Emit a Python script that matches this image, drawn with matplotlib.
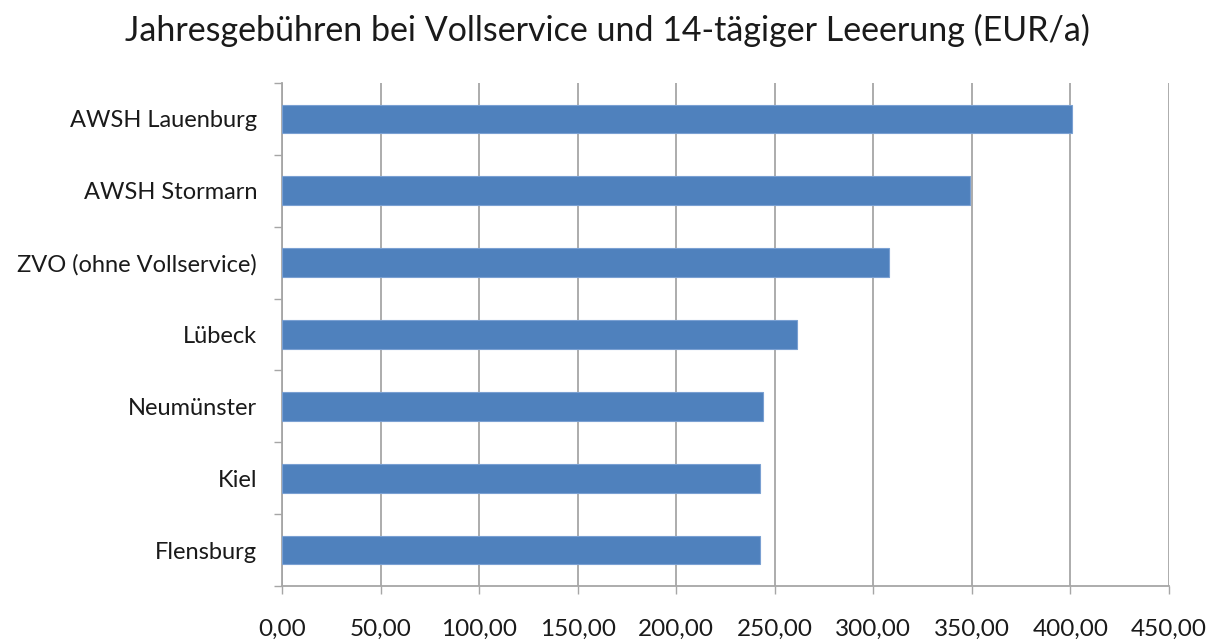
import numpy as np
import matplotlib.pyplot as plt
from matplotlib.ticker import FixedLocator

# ── data ──────────────────────────────────────────────────────────────
categories = ["Flensburg", "Kiel", "Neumünster", "Lübeck",
              "ZVO (ohne Vollservice)", "AWSH Stormarn", "AWSH Lauenburg"]
fees = [242.7, 242.7, 243.9, 261.4, 308.0, 349.1, 401.0]
x_ticks = [0, 50, 100, 150, 200, 250, 300, 350, 400, 450]
x_labels = ["0,00", "50,00", "100,00", "150,00", "200,00",
            "250,00", "300,00", "350,00", "400,00", "450,00"]

TITLE = "Jahresgebühren bei Vollservice und 14-tägiger Leeerung (EUR/a)"

BAR   = "#4F81BD"
EDGE  = "#7AA0D2"
GRID  = "#A6A6A6"
TEXT  = "#1A1A1A"

plt.rcParams["font.family"] = ["Lato", "DejaVu Sans"]

fig = plt.figure(figsize=(12.18, 6.41), dpi=100)
ax = fig.add_axes([282 / 1218, 1 - 586 / 641, (1169 - 282) / 1218, (586 - 83) / 641])

y = np.arange(len(categories))
ax.barh(y, fees, height=0.4, color=BAR, edgecolor=EDGE, linewidth=0.8, zorder=3)

ax.set_xlim(0, 450)
ax.set_ylim(-0.5, len(categories) - 0.5)

ax.set_xticks(x_ticks)
ax.set_xticklabels(x_labels, fontsize=17.5, color=TEXT)
ax.set_yticks(y)
ax.set_yticklabels(categories, fontsize=17, color=TEXT)

# category separators as minor ticks on the y axis
ax.yaxis.set_minor_locator(FixedLocator(np.arange(-0.5, len(categories), 1.0)))
ax.tick_params(axis="y", which="major", length=0, pad=18)
ax.tick_params(axis="y", which="minor", length=6, width=1.0, color=GRID, direction="out")
ax.tick_params(axis="x", length=6, width=1.0, color=GRID, pad=18)

ax.grid(axis="x", color=GRID, linewidth=1.3, zorder=0)
ax.set_axisbelow(True)
for side in ("top", "right"):
    ax.spines[side].set_visible(False)
for side in ("left", "bottom"):
    ax.spines[side].set_color(GRID)
    ax.spines[side].set_linewidth(1.3)

fig.text(607 / 1218, 1 - 30 / 641, TITLE, ha="center", va="center",
         fontsize=24.5, color=TEXT)

fig.savefig("out.png", dpi=100, facecolor="white")
